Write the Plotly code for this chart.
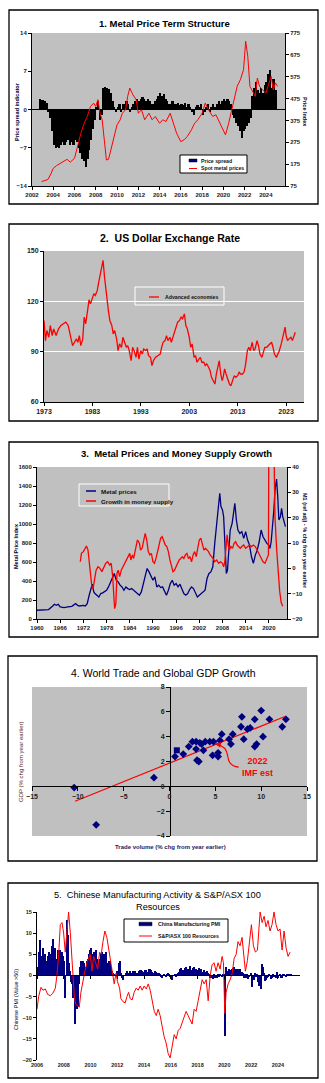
import numpy as np
import plotly.graph_objects as go

W, H = 325, 1083
def fx(p): return p / W
def fy(p): return 1 - p / H

FONT = "Liberation Sans"
GRAY = "#C0C0C0"
NAVY = "#000080"
RED = "#FF0000"

# ---------------- Panel 1 data ----------------
spread_start_year = 2002
price_spread = [  # bi-monthly values, 6 per year
    [None, None, None, None, 2.0, 1.8],
    [1.8, 1.5, 1.2, -0.5, -1.5, -4.0],
    [-6.5, -7.0, -6.8, -7.0, -6.5, -6.0],
    [-6.5, -6.0, -5.5, -6.5, -6.0, -6.5],
    [-5.5, -6.0, -7.0, -8.0, -9.0, -9.5],
    [-10.5, -9.0, -7.5, -5.5, -3.5, -2.0],
    [0.5, 1.5, -2.0, -1.0, 4.0, 4.2],
    [4.0, 3.8, 3.0, 1.5, 0.5, -0.5],
    [0.5, 1.0, -0.5, 1.0, 1.0, 1.5],
    [1.0, -0.5, 0.5, 1.0, 1.5, 2.0],
    [1.5, 2.0, 2.2, 2.0, 1.5, 2.0],
    [1.5, 1.0, 1.0, 1.5, 2.0, 2.5],
    [3.0, 2.5, 2.8, 2.0, 1.5, 1.0],
    [1.0, 1.5, 1.0, 1.0, 1.2, 0.8],
    [1.0, 0.8, 1.2, 0.5, 1.0, 0.5],
    [-0.5, -1.0, 0.5, 0.8, 0.5, 1.0],
    [-1.0, -0.5, 0.5, 1.0, -0.5, 0.5],
    [1.0, 0.5, 1.0, 1.5, 1.0, 1.5],
    [2.0, 1.5, 2.0, 1.5, 1.0, -1.0],
    [-1.5, -2.5, -3.0, -4.0, -5.2, -4.0],
    [-3.5, -3.0, -2.5, -1.5, 2.5, 4.0],
    [5.0, 3.5, 3.0, 4.0, 3.0, 4.5],
    [5.0, 6.5, 7.2, 4.0, 5.5, 3.5],
]
spot_years = [2002.9, 2003.2, 2003.5, 2003.8, 2004.0, 2004.3, 2004.7, 2005.0, 2005.3, 2005.6,
              2006.0, 2006.2, 2006.4, 2006.6, 2006.9, 2007.2, 2007.5, 2007.8, 2008.0, 2008.2,
              2008.4, 2008.6, 2008.8, 2009.0, 2009.2, 2009.5, 2009.8, 2010.0, 2010.3, 2010.5,
              2010.8, 2011.0, 2011.2, 2011.5, 2011.8, 2012.0, 2012.3, 2012.6, 2013.0, 2013.3,
              2013.6, 2014.0, 2014.3, 2014.6, 2015.0, 2015.3, 2015.6, 2016.0, 2016.3, 2016.6,
              2017.0, 2017.3, 2017.6, 2018.0, 2018.3, 2018.6, 2019.0, 2019.3, 2019.6, 2019.9,
              2020.2, 2020.5, 2020.8, 2021.0, 2021.3, 2021.6, 2021.9, 2022.1, 2022.3, 2022.5,
              2022.8, 2023.0, 2023.2, 2023.4, 2023.7, 2024.0, 2024.3, 2024.5, 2024.7, 2024.9, 2025.1]
spot_prices = [95, 100, 105, 133, 156, 168, 179, 191, 197, 184,
               202, 240, 286, 317, 362, 393, 439, 454, 439, 470,
               408, 378, 286, 194, 197, 255, 317, 355, 378, 408,
               424, 485, 523, 492, 470, 408, 424, 378, 408, 378,
               393, 362, 378, 370, 408, 362, 317, 278, 286, 301,
               332, 362, 378, 408, 454, 424, 393, 401, 370, 347,
               309, 362, 424, 470, 531, 561, 607, 737, 668, 531,
               500, 485, 569, 531, 515, 500, 546, 576, 515, 546, 531]
assert len(spot_years) == len(spot_prices)

# ---------------- Panel 2 data ----------------
usd_years = [1973.0, 1973.15, 1973.3, 1973.6, 1974.0, 1974.3, 1974.7, 1975.0, 1975.5, 1976.0,
             1976.5, 1977.0, 1977.5, 1978.0, 1978.5, 1978.9, 1979.3, 1979.7, 1980.0, 1980.3,
             1980.6, 1981.0, 1981.3, 1981.6, 1982.0, 1982.3, 1982.6, 1983.0, 1983.3, 1983.6,
             1984.0, 1984.3, 1984.6, 1985.0, 1985.2, 1985.5, 1985.8, 1986.0, 1986.3, 1986.6,
             1987.0, 1987.3, 1987.6, 1988.0, 1988.3, 1988.6, 1989.0, 1989.3, 1989.6, 1990.0,
             1990.3, 1990.6, 1991.0, 1991.3, 1991.6, 1992.0, 1992.3, 1992.6, 1993.0, 1993.3,
             1993.6, 1994.0, 1994.3, 1994.6, 1995.0, 1995.3, 1995.6, 1996.0, 1996.5, 1997.0,
             1997.3, 1997.6, 1998.0, 1998.3, 1998.6, 1999.0, 1999.3, 1999.6, 2000.0, 2000.3,
             2000.6, 2001.0, 2001.3, 2001.6, 2002.0, 2002.3, 2002.6, 2003.0, 2003.3, 2003.6,
             2004.0, 2004.3, 2004.6, 2005.0, 2005.3, 2005.6, 2006.0, 2006.3, 2006.6, 2007.0,
             2007.3, 2007.6, 2008.0, 2008.3, 2008.6, 2009.0, 2009.2, 2009.5, 2009.8, 2010.0,
             2010.3, 2010.6, 2011.0, 2011.3, 2011.6, 2012.0, 2012.3, 2012.6, 2013.0, 2013.3,
             2013.6, 2014.0, 2014.3, 2014.6, 2015.0, 2015.3, 2015.6, 2016.0, 2016.3, 2016.6,
             2017.0, 2017.3, 2017.6, 2018.0, 2018.3, 2018.6, 2019.0, 2019.3, 2019.6, 2020.0,
             2020.3, 2020.6, 2021.0, 2021.3, 2021.6, 2022.0, 2022.3, 2022.6, 2022.8, 2023.0,
             2023.3, 2023.6, 2024.0, 2024.3, 2024.6, 2024.9]
usd_index = [108.6, 101.6, 96.6, 102.6, 98.6, 105.6, 99.6, 103.6, 99.6, 103.6,
             105.6, 106.6, 107.6, 105.6, 99.6, 93.6, 95.6, 97.6, 95.6, 99.6,
             93.6, 97.6, 110.6, 106.6, 114.5, 120.9, 118.5, 121.5, 124.5, 123.5,
             126.5, 131.5, 135.5, 142.4, 144.4, 134.5, 126.5, 119.5, 114.5, 108.6,
             105.6, 100.6, 102.6, 97.6, 90.6, 94.6, 92.6, 98.6, 95.6, 92.6,
             93.6, 90.6, 84.6, 92.6, 90.6, 86.6, 92.6, 85.6, 90.6, 88.6,
             91.6, 90.6, 91.6, 87.6, 86.6, 81.7, 84.6, 86.6, 87.6, 88.6,
             92.6, 95.6, 96.6, 99.6, 96.6, 98.6, 95.6, 98.6, 102.6, 105.6,
             107.6, 108.6, 110.6, 109.6, 112.5, 105.6, 103.6, 98.6, 92.6, 94.6,
             86.6, 87.6, 83.7, 85.6, 86.6, 83.7, 83.7, 81.7, 82.7, 80.7,
             78.7, 74.7, 71.7, 70.7, 76.7, 83.7, 84.6, 76.7, 72.7, 74.7,
             79.7, 76.7, 72.7, 70.7, 69.7, 73.7, 75.7, 74.7, 75.7, 77.7,
             76.7, 76.7, 77.7, 81.7, 90.6, 92.6, 90.6, 95.6, 90.6, 91.6,
             96.6, 93.6, 88.6, 86.6, 90.6, 92.6, 92.6, 93.6, 94.6, 95.6,
             92.6, 88.6, 86.6, 88.6, 90.6, 94.6, 98.6, 103.6, 104.6, 99.6,
             96.6, 97.6, 98.6, 96.6, 99.6, 101.6]
assert len(usd_years) == len(usd_index)

# ---------------- Panel 3 data ----------------
metal_years = [1960, 1962, 1963, 1964, 1964.5, 1965, 1965.5, 1966, 1967, 1968,
               1969, 1970, 1970.5, 1971, 1972, 1972.5, 1973, 1973.5, 1974, 1974.3,
               1974.7, 1975, 1976, 1976.5, 1977, 1978, 1978.5, 1979, 1979.5, 1980,
               1980.5, 1981, 1981.5, 1982, 1982.5, 1983, 1983.5, 1984, 1984.5, 1985,
               1986, 1986.5, 1987, 1987.5, 1988, 1988.5, 1989, 1989.5, 1990, 1990.5,
               1991, 1991.5, 1992, 1992.5, 1993, 1993.5, 1994, 1994.5, 1995, 1995.5,
               1996, 1996.5, 1997, 1997.5, 1998, 1998.5, 1999, 1999.5, 2000, 2000.5,
               2001, 2001.5, 2002, 2002.5, 2003, 2003.5, 2004, 2004.5, 2005, 2005.5,
               2006, 2006.5, 2007, 2007.3, 2007.6, 2008, 2008.3, 2008.6, 2009.0, 2009.3,
               2009.6, 2010, 2010.5, 2011, 2011.2, 2011.6, 2012, 2012.5, 2013, 2013.5,
               2014, 2014.5, 2015, 2015.5, 2016, 2016.5, 2017, 2017.5, 2018, 2018.5,
               2019, 2019.5, 2020, 2020.3, 2020.6, 2021, 2021.3, 2021.6, 2022, 2022.3,
               2022.6, 2023, 2023.3, 2023.6, 2024, 2024.3]
metal_prices = [92, 92, 99, 134, 155, 144, 155, 127, 120, 127,
                134, 162, 144, 137, 144, 137, 162, 250, 338, 366,
                285, 268, 232, 268, 275, 303, 338, 391, 444, 479,
                408, 391, 356, 338, 303, 338, 320, 310, 320, 303,
                268, 250, 285, 373, 444, 532, 496, 444, 408, 444,
                338, 356, 331, 338, 285, 250, 303, 373, 408, 356,
                373, 338, 366, 320, 268, 250, 268, 310, 338, 320,
                268, 232, 250, 268, 285, 303, 426, 479, 496, 549,
                796, 1025, 1183, 1324, 1183, 1148, 1077, 831, 479, 514,
                761, 937, 1007, 1148, 1218, 1042, 937, 901, 919, 849,
                919, 831, 778, 655, 585, 673, 725, 813, 937, 866,
                831, 796, 778, 743, 813, 972, 1148, 1359, 1472, 1289,
                1042, 1077, 1165, 1077, 1025, 972]
assert len(metal_years) == len(metal_prices)

m1_years = [1971.2, 1971.5, 1972, 1972.5, 1972.8, 1973.2, 1973.5, 1973.8, 1974.2, 1974.5,
            1974.8, 1975.3, 1975.8, 1976.3, 1976.8, 1977.3, 1977.8, 1978.3, 1978.8, 1979.2,
            1979.6, 1979.9, 1980.1, 1980.4, 1980.7, 1981.0, 1981.4, 1981.8, 1982.2, 1982.6,
            1983.0, 1983.5, 1984.0, 1984.3, 1984.7, 1985.0, 1985.5, 1986.0, 1986.5, 1986.8,
            1987.2, 1987.5, 1987.8, 1988.0, 1988.4, 1988.8, 1989.2, 1989.6, 1990.0, 1990.4,
            1990.8, 1991.2, 1991.6, 1992.0, 1992.4, 1992.8, 1993.2, 1993.6, 1994.0, 1994.4,
            1994.8, 1995.2, 1995.6, 1996.0, 1996.4, 1996.8, 1997.2, 1997.6, 1998.0, 1998.4,
            1998.8, 1999.2, 1999.6, 2000.0, 2000.4, 2000.8, 2001.2, 2001.6, 2002.0, 2002.4,
            2002.8, 2003.2, 2003.6, 2004.0, 2004.4, 2004.8, 2005.2, 2005.6, 2006.0, 2006.5,
            2007.0, 2007.5, 2008.0, 2008.3, 2008.6, 2008.9, 2009.2, 2009.5, 2009.8, 2010.2,
            2010.6, 2011.0, 2011.4, 2011.8, 2012.2, 2012.6, 2013.0, 2013.5, 2014.0, 2014.5,
            2015.0, 2015.5, 2016.0, 2016.5, 2017.0, 2017.5, 2018.0, 2018.5, 2019.0, 2019.5,
            2019.9, 2020.05, 2020.3, 2021.0, 2021.2, 2021.4, 2021.6, 2022.0, 2022.4, 2022.8,
            2023.2, 2023.6]
m1_growth = [2.6, 5.9, 6.6, 7.9, 8.8, 7.2, 2.0, -3.3, -7.3, -8.0,
             -4.6, -0.7, 0.6, 0.0, -1.3, 0.6, 2.0, 2.6, 1.3, 2.0,
             -3.3, -11.3, -15.9, -13.9, -2.0, -0.7, -3.3, -0.7, 0.6, 2.0,
             3.3, 4.6, 5.9, 3.3, 5.3, 3.9, 7.2, 11.2, 9.9, 7.2,
             7.9, 9.9, 11.2, 13.8, 11.2, 6.6, 5.3, 5.9, 2.6, 2.0,
             3.9, 6.6, 9.2, 11.9, 12.5, 10.5, 9.2, 8.6, 6.6, 3.3,
             0.6, -1.3, -0.7, 0.6, 2.6, 3.3, 3.9, 4.6, 3.9, 5.3,
             5.9, 3.9, 4.6, 2.6, 5.3, 6.6, 4.6, 8.6, 11.2, 11.9,
             9.2, 7.2, 7.9, 7.2, 6.6, 5.3, 4.6, 3.9, 2.6, 3.3,
             2.0, 2.6, 2.0, 0.6, 2.6, 9.9, 13.2, 9.2, 7.2, 8.6,
             7.9, 9.9, 10.5, 9.2, 8.6, 7.9, 8.6, 9.2, 7.9, 8.6,
             9.2, 8.6, 9.2, 8.6, 7.2, 5.9, 3.9, 2.6, 2.0, 3.9,
             5.3, 80, 300, 300, 60, 35, 20, 8, -1, -9,
             -13.5, -15]
assert len(m1_years) == len(m1_growth)

# ---------------- Panel 4 data ----------------
trade_volume = [-10.4, -8.0, -1.7, 0.6, 1.5, 2.1, 2.5, 2.9, 2.9, 3.0, 3.2, 3.3, 3.5, 3.7, 3.9,
                4.4, 4.7, 4.8, 5.3, 5.3, 5.5, 5.7, 6.5, 6.7, 6.9, 7.8, 7.9, 8.1, 8.5, 8.8,
                9.3, 9.3, 9.5, 10.0, 10.2, 10.9, 12.3, 12.7]
gdp_growth = [-0.1, -3.1, 0.7, 2.4, 2.6, 3.2, 3.6, 3.6, 3.0, 2.1, 2.0, 3.5, 3.4, 2.9, 3.6,
              3.6, 2.5, 3.6, 2.7, 2.4, 3.7, 4.2, 3.8, 3.4, 4.2, 4.8, 5.6, 3.8, 4.6, 4.7,
              5.4, 3.2, 3.4, 6.1, 4.0, 5.4, 4.8, 5.4]
assert len(trade_volume) == len(gdp_growth)
imf_est_trade = [0.8]
imf_est_gdp = [2.9]
trend_slope, trend_intercept = 0.298, 1.87
trend_x = [-10.3, 12.6]

# ---------------- Panel 5 data ----------------
pmi_start_year = 2006
china_pmi = [  # monthly, PMI minus 50
    [2.0, 5.5, 8.3, 4.5, 3.0, 6.5, 4.5, 5.0, 3.5, 4.5, 5.5, 4.0],
    [5.0, 7.0, 8.7, 5.0, 6.5, 4.0, 6.0, 5.5, 6.0, 4.0, 5.5, 4.5],
    [3.5, -5.3, 13.1, 9.5, 3.0, 1.0, -1.5, -2.0, -5.3, -5.0, -11.5, -8.0],
    [-7.5, -2.0, 2.0, 3.5, 3.0, 3.5, 3.0, 2.0, 3.5, 4.0, 5.0, 6.0],
    [6.6, 5.0, 3.0, 5.5, 6.0, 4.0, 2.0, 3.0, 4.0, 5.0, 5.5, 4.0],
    [5.0, 5.5, 3.0, 2.0, 3.5, 3.5, 2.0, 1.0, 0.5, 0.3, 0.0, 1.0],
    [0.5, 3.0, 3.3, 0.5, -0.5, -1.0, 0.0, 0.5, 1.0, 0.5, 0.5, 1.0],
    [0.5, 0.5, 1.0, 1.0, 0.5, 0.5, 0.3, 1.0, 1.2, 1.3, 1.0, 0.8],
    [1.3, 1.3, 0.8, 0.5, 1.5, 1.5, 1.3, 0.8, 0.5, 1.0, 0.8, 0.5],
    [0.3, 0.5, 0.2, -0.3, -0.5, 0.2, 0.0, -0.3, 0.2, 0.5, 0.3, -0.3],
    [-0.5, -1.0, 0.0, 0.3, -0.2, 0.3, 0.5, 0.8, 1.5, 1.8, 1.2, 0.5],
    [1.8, 2.0, 1.5, 1.2, 1.5, 2.3, 1.2, 1.7, 2.0, 1.3, 1.5, 1.2],
    [1.3, 1.8, 1.0, 1.5, 0.8, 1.2, 0.5, 0.8, 1.0, 0.5, 0.3, -0.5],
    [-0.5, -0.8, 0.2, -0.5, -0.3, -0.5, 0.3, -0.2, 0.2, -0.3, 0.3, 0.2],
    [-14.3, 2.0, 1.0, 0.5, 1.5, 1.2, 1.5, 1.8, 2.0, 1.5, 1.0, 1.5],
    [1.5, 1.0, 1.5, 0.8, 0.5, -0.5, 0.3, -0.5, 0.2, -0.8, -0.3, 0.5],
    [-2.8, -0.5, -1.0, 0.5, -0.3, 0.2, -1.5, -2.5, -3.2, 2.6, 2.0, 0.5],
    [-1.2, -1.0, -0.5, -0.3, 0.2, -0.8, -0.5, 0.3, -0.2, 0.0, -0.5, 0.8],
    [-0.5, 0.4, -0.7, -0.5, 0.3, 0.2, 0.0, -0.3, 0.2, 0.3, 0.2, 0.2],
]
asx_years = [2006.0, 2006.12, 2006.3, 2006.45, 2006.62, 2006.8, 2007.0, 2007.19, 2007.37, 2007.49,
             2007.62, 2007.74, 2007.87, 2007.99, 2008.11, 2008.24, 2008.36, 2008.49, 2008.61, 2008.69,
             2008.79, 2008.89, 2009.03, 2009.16, 2009.28, 2009.43, 2009.58, 2009.73, 2009.88, 2009.98,
             2010.1, 2010.23, 2010.38, 2010.53, 2010.68, 2010.8, 2010.93, 2011.07, 2011.22, 2011.37,
             2011.52, 2011.67, 2011.77, 2011.9, 2012.02, 2012.17, 2012.27, 2012.42, 2012.59, 2012.72,
             2012.84, 2012.97, 2013.11, 2013.26, 2013.41, 2013.56, 2013.71, 2013.86, 2014.01, 2014.16,
             2014.31, 2014.46, 2014.61, 2014.76, 2014.91, 2015.05, 2015.2, 2015.35, 2015.5, 2015.65,
             2015.8, 2015.95, 2016.1, 2016.25, 2016.4, 2016.55, 2016.7, 2016.85, 2016.99, 2017.14,
             2017.29, 2017.44, 2017.59, 2017.74, 2017.89, 2018.04, 2018.19, 2018.34, 2018.49, 2018.64,
             2018.79, 2018.94, 2019.08, 2019.23, 2019.38, 2019.53, 2019.68, 2019.83, 2019.93, 2020.03,
             2020.13, 2020.28, 2020.43, 2020.58, 2020.73, 2020.88, 2021.02, 2021.17, 2021.32, 2021.47,
             2021.57, 2021.72, 2021.87, 2022.02, 2022.17, 2022.32, 2022.47, 2022.57, 2022.67, 2022.82,
             2022.97, 2023.11, 2023.26, 2023.41, 2023.56, 2023.71, 2023.86, 2024.01, 2024.16, 2024.31,
             2024.46, 2024.61, 2024.76, 2024.91]
asx_resources = [-8, -5, -2.8, -3.5, -3.2, -4.5, -4.8, -4.2, -3.0, 0,
                 5, 12, 12.5, 10, 5.5, 11, 15, 10, 4, 0,
                 -5, -6.8, -7.2, -7.5, -4, -1, 1, 3, 4.5, 5,
                 1, 4.5, 3, 1.5, 5.5, 5, 8, 10.5, 9, 6,
                 3, 0.5, -2, 0.5, -1.5, -3, -5.5, -6.2, -6.5, -5,
                 -4, -5.5, -5.8, -4, -3, -3.5, -2.5, -3.5, -2.5, -3.2,
                 -2, -3.5, -6, -8.5, -9.5, -8, -9.5, -12, -14.5, -16,
                 -18.5, -19.5, -17, -14, -15, -13, -12.5, -11, -10, -8.5,
                 -9.5, -10.5, -11.5, -8, -8.5, -6, -3.5, -1, -2, -1,
                 -6, 0, 2.5, 3, 1, 3, 1.5, 4.5, 3, -9,
                 -4, -2, -1, 0.5, 4, 5, 8, 7, 9, 4,
                 1, 3.5, 8, 12, 7, 5.5, 6, 10, 15, 12.5,
                 14, 11.5, 13, 10.5, 12, 15, 12, 10.5, 11, 6,
                 10.5, 6.5, 4.5, 5.5]
assert len(asx_years) == len(asx_resources)

# ---------------- build figure ----------------
fig = go.Figure()

sx, sy = [], []
for i, row in enumerate(price_spread):
    for k, v in enumerate(row):
        if v is not None:
            sx.append(spread_start_year + i + (k + 0.5) / 6)
            sy.append(v)
fig.add_trace(go.Bar(x=sx, y=sy, width=1 / 6, marker=dict(color="black", line=dict(width=0)),
                     xaxis="x", yaxis="y", name="Price spread"))
fig.add_trace(go.Scatter(x=spot_years, y=spot_prices, mode="lines", line=dict(color=RED, width=1),
                         xaxis="x", yaxis="y2", name="Spot metal prices"))

fig.add_trace(go.Scatter(x=usd_years, y=usd_index, mode="lines", line=dict(color=RED, width=1.3),
                         xaxis="x2", yaxis="y3", name="Advanced economies"))

fig.add_trace(go.Scatter(x=metal_years, y=metal_prices, mode="lines", line=dict(color=NAVY, width=1.3),
                         xaxis="x3", yaxis="y4", name="Metal prices"))
fig.add_trace(go.Scatter(x=m1_years, y=m1_growth, mode="lines", line=dict(color=RED, width=1.3),
                         xaxis="x3", yaxis="y5", name="Growth in money supply"))

trend_y = [trend_slope * v + trend_intercept for v in trend_x]
fig.add_trace(go.Scatter(x=trend_x, y=trend_y, mode="lines", line=dict(color=RED, width=1.2),
                         xaxis="x4", yaxis="y6"))
fig.add_trace(go.Scatter(x=trade_volume, y=gdp_growth, mode="markers",
                         marker=dict(symbol="diamond", size=6, color=NAVY),
                         xaxis="x4", yaxis="y6"))
fig.add_trace(go.Scatter(x=imf_est_trade, y=imf_est_gdp, mode="markers",
                         marker=dict(symbol="square", size=6, color=NAVY),
                         xaxis="x4", yaxis="y6"))

px_, py_ = [], []
for i, row in enumerate(china_pmi):
    for m, v in enumerate(row):
        px_.append(pmi_start_year + i + (m + 0.5) / 12)
        py_.append(v)
fig.add_trace(go.Bar(x=px_, y=py_, width=1 / 12, marker=dict(color=NAVY, line=dict(width=0)),
                     xaxis="x5", yaxis="y7"))
fig.add_trace(go.Scatter(x=asx_years, y=asx_resources, mode="lines", line=dict(color=RED, width=1),
                         xaxis="x6", yaxis="y7"))


def ax(**kw):
    base = dict(showline=True, linecolor="black", linewidth=1, ticks="outside", ticklen=3,
                tickcolor="black", tickwidth=1, showgrid=False, zeroline=False, fixedrange=True,
                tickfont=dict(family=FONT, size=6, color="#222222", weight="bold"))
    base.update(kw)
    return base


tf7 = dict(family=FONT, size=7, color="#222222", weight="bold")
tf55 = dict(family=FONT, size=5.5, color="#222222", weight="bold")

fig.update_layout(
    width=W, height=H, margin=dict(l=0, r=0, t=0, b=0),
    paper_bgcolor="white", plot_bgcolor="rgba(0,0,0,0)", showlegend=False,
    template="none", bargap=0,
    # Panel 1
    xaxis=ax(domain=[fx(32), fx(285)], range=[2002, 2025.8], tickvals=list(range(2002, 2025, 2)),
             anchor="y"),
    yaxis=ax(domain=[fy(186), fy(33)], range=[-14, 14], tickvals=[-14, -7, 0, 7, 14], anchor="x",
             zeroline=True, zerolinecolor="black", zerolinewidth=1),
    yaxis2=ax(overlaying="y", side="right", range=[75, 775], tickvals=list(range(75, 776, 100)),
              anchor="x"),
    # Panel 2
    xaxis2=ax(domain=[fx(44), fx(304)], range=[1973, 2026.7], tickvals=list(range(1973, 2024, 10)),
              anchor="y3", tickfont=tf7),
    yaxis3=ax(domain=[fy(402), fy(251)], range=[60, 150], tickvals=[60, 90, 120, 150], anchor="x2",
              showgrid=True, gridcolor="white", gridwidth=1.2, tickfont=tf7),
    # Panel 3
    xaxis3=ax(domain=[fx(37), fx(287)], range=[1960, 2024.7], tickvals=list(range(1960, 2021, 6)),
              anchor="y4"),
    yaxis4=ax(domain=[fy(619), fy(467)], range=[0, 1600], tickvals=list(range(0, 1601, 200)),
              anchor="x3"),
    yaxis5=ax(overlaying="y4", side="right", range=[-20, 40], tickvals=list(range(-20, 41, 10)),
              anchor="x3"),
    # Panel 4
    xaxis4=ax(domain=[fx(32), fx(307)], range=[-15, 15], tickvals=list(range(-15, 16, 5)),
              anchor="free", position=fy(786), tickfont=tf7, ticklen=4),
    yaxis6=ax(domain=[fy(836), fy(687)], range=[-4, 8], tickvals=list(range(-4, 9, 2)),
              anchor="free", position=fx(170), tickfont=tf7, ticklen=4),
    # Panel 5
    xaxis5=ax(domain=[fx(37), fx(300)], range=[2006, 2025.65], tickvals=list(range(2006, 2025, 2)),
              anchor="y7", showline=False, ticks="", tickfont=tf55),
    xaxis6=ax(overlaying="x5", range=[2006, 2025.65], tickvals=list(range(2006, 2026, 2)),
              anchor="free", position=fy(975), showticklabels=False),
    yaxis7=ax(domain=[fy(1060), fy(912)], range=[-20, 15], tickvals=list(range(-20, 16, 5)),
              anchor="x5", tickfont=tf55),
)

shapes = []
# gray plot backgrounds
for (x0, y0, x1, y1) in [(32, 33, 285, 186), (44, 251, 304, 402), (37, 467, 287, 619), (32, 687, 307, 836)]:
    shapes.append(dict(type="rect", xref="paper", yref="paper", x0=fx(x0), x1=fx(x1), y0=fy(y1), y1=fy(y0),
                       fillcolor=GRAY, line=dict(width=0), layer="below"))
# panel borders
for (x0, y0, x1, y1) in [(9, 10, 318, 204), (9, 224, 318, 421), (9, 442, 318, 637), (8, 656, 317, 861),
                         (8, 883, 318, 1078)]:
    shapes.append(dict(type="rect", xref="paper", yref="paper", x0=fx(x0), x1=fx(x1), y0=fy(y1), y1=fy(y0),
                       fillcolor="rgba(0,0,0,0)", line=dict(color="black", width=1.3), layer="above"))

# legend boxes
def legend_box(x0, y0, x1, y1, fill, border):
    shapes.append(dict(type="rect", xref="paper", yref="paper", x0=fx(x0), x1=fx(x1), y0=fy(y1), y1=fy(y0),
                       fillcolor=fill, line=dict(color=border, width=1), layer="above"))

def legend_line(x0, x1, y, color, width=1.3):
    shapes.append(dict(type="line", xref="paper", yref="paper", x0=fx(x0), x1=fx(x1), y0=fy(y), y1=fy(y),
                       line=dict(color=color, width=width), layer="above"))

def legend_swatch(x0, x1, y, h, color):
    shapes.append(dict(type="rect", xref="paper", yref="paper", x0=fx(x0), x1=fx(x1), y0=fy(y + h / 2),
                       y1=fy(y - h / 2), fillcolor=color, line=dict(color="black", width=0.5), layer="above"))

legend_box(180, 155, 247, 173, "white", "black")
legend_swatch(189, 197, 160.5, 3, NAVY)
legend_line(189, 197, 168.5, RED, 1)
legend_box(135, 287, 224, 305, "rgba(0,0,0,0)", "white")
legend_line(149, 159, 297, RED, 1.3)
legend_box(79, 484, 169, 506, "rgba(0,0,0,0)", "white")
legend_line(86, 96, 491, NAVY, 1.5)
legend_line(86, 96, 501, RED, 1.5)
legend_box(124, 919, 228, 942, "white", "black")
legend_swatch(139, 152, 924, 3.5, NAVY)
legend_line(139, 152, 936, RED, 1)

# curved arrow in panel 4 (data coords)
shapes.append(dict(type="path", xref="x4", yref="y6",
                   path="M 7.55,1.55 Q 6.45,1.6 6.35,2.45 Q 6.2,3.25 5.15,3.38",
                   line=dict(color=RED, width=1.2), layer="above"))
fig.update_layout(shapes=shapes)

ann = []
def text(x, y, s, size=6, color="#111111", bold=True, xanchor="left", angle=0, family=FONT):
    ann.append(dict(x=fx(x), y=fy(y), xref="paper", yref="paper", text=s, showarrow=False,
                    xanchor=xanchor, yanchor="middle", textangle=angle,
                    font=dict(family=family, size=size, color=color, weight="bold" if bold else "normal")))

# titles
text(164, 23, "1. Metal Price Term Structure", size=9.5, color="black", xanchor="center")
text(170, 238, "2.  US Dollar Exchange Rate", size=10.5, color="black", xanchor="center")
text(176, 453, "3.  Metal Prices and Money Supply Growth", size=9.5, color="black", xanchor="center")
text(163.5, 673, "4. World Trade and Global GDP Growth", size=10.5, color="black", bold=False, xanchor="center")
text(157.5, 895, "5.  Chinese Manufacturing Activity & S&P/ASX 100", size=9.2, color="black", bold=False,
     xanchor="center")
text(157.5, 907, "Resources", size=9.2, color="black", bold=False, xanchor="center")

# axis titles
text(17, 112, "Price spread indicator", size=5.5, color="#000033", xanchor="center", angle=-90)
text(305, 112, "Price Index", size=5.5, color="#000033", xanchor="center", angle=90)
text(16, 546, "Metal Price Index", size=5.5, color="#000033", xanchor="center", angle=-90)
text(305, 541, "M1 (ref adj) - % chg from year earlier", size=5.5, color="#000033", xanchor="center", angle=90)
text(21, 762, "GDP (% chg from year earlier)", size=6, color="#5a1a1a", bold=False, xanchor="center", angle=-90)
text(170, 847, "Trade volume (% chg from year earlier)", size=6, color="#1a1a66", xanchor="center")
text(16, 1000, "Chinese PMI (Value >50)", size=5.5, color="#000033", bold=False, xanchor="center", angle=-90)

# legend texts
text(199, 160.5, "Price spread", size=5.2)
text(199, 168.5, "Spot metal prices", size=5.2)
text(163, 297, "Advanced economies", size=5.2)
text(99, 491, "Metal prices", size=6.2)
text(99, 501, "Growth in money supply", size=6.2)
text(156, 924, "China Manufacturing PMI", size=5.2)
text(156, 936, "S&P/ASX 100 Resources", size=5.2)

# panel 4 annotation
ann.append(dict(x=9.55, y=1.55, xref="x4", yref="y6", text="2022<br>IMF est", showarrow=False,
                xanchor="center", yanchor="middle",
                font=dict(family=FONT, size=9, color=RED, weight="bold")))
ann.append(dict(x=4.95, y=3.42, xref="x4", yref="y6", text="", showarrow=True, arrowhead=2,
                arrowsize=1, arrowwidth=1.2, arrowcolor=RED, ax=6, ay=1))
fig.update_layout(annotations=ann)

fig.write_html("out.html")
